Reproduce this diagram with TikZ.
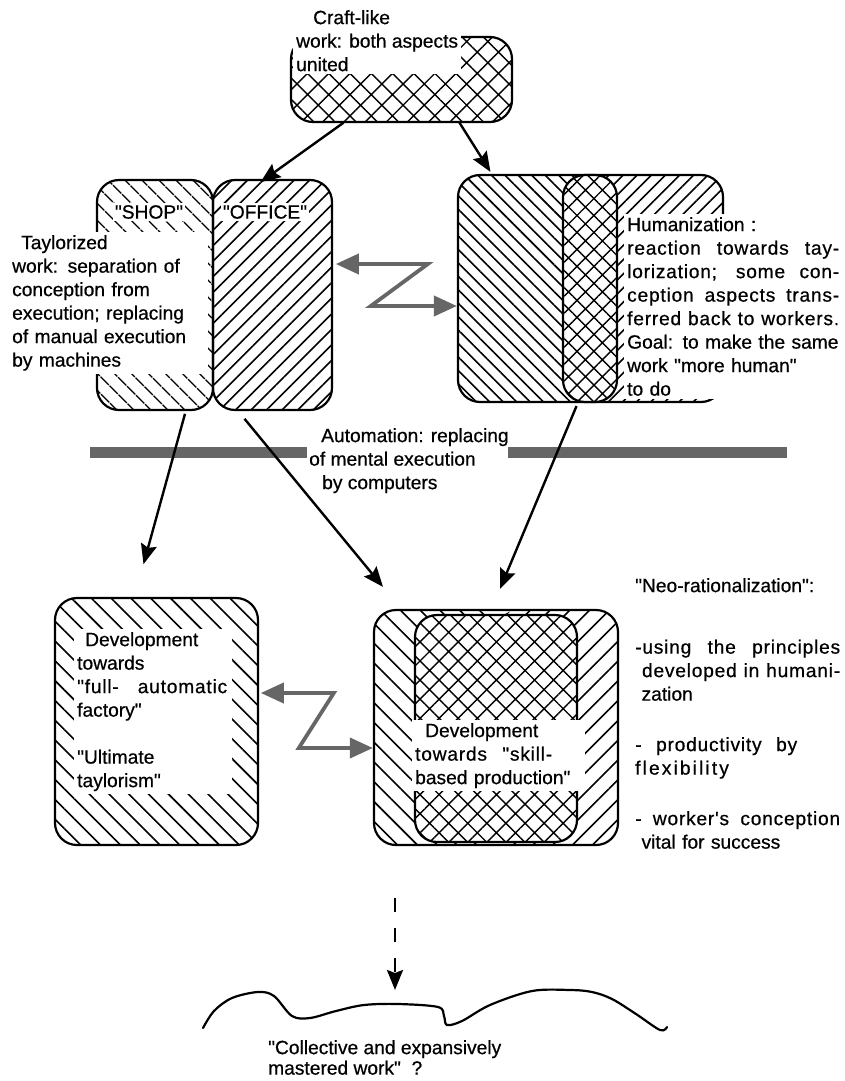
\documentclass[tikz,border=0pt]{standalone}
\usepackage{fontspec}
\setmainfont{Liberation Sans}[Ligatures=TeXOff, FakeBold=0.6]
\usetikzlibrary{patterns.meta,arrows.meta}
\newcommand{\justline}[2][212pt]{\makebox[#1][s]{\addfontfeature{LetterSpace=4}\spaceskip=.28em plus 1fil\relax #2}}

\begin{document}
\begin{tikzpicture}[x=1pt,y=-1pt,
    box/.style={draw=black, line width=2.2pt, rounded corners=22pt, inner sep=0pt},
    rhatch/.style={pattern={Lines[angle=-45,distance=#1,line width=1.6pt]}},
    rhatch/.default=13pt,
    lhatch/.style={pattern={Lines[angle=45,distance=#1,line width=1.6pt]}},
    lhatch/.default=11pt,
    xhatch/.style={pattern={Hatch[angle=45,distance=#1,line width=1.4pt]}},
    xhatch/.default=13pt,
    txt/.style={font=\fontsize{19.2}{23.5}\selectfont, align=left, inner sep=3pt},
    wtxt/.style={txt, fill=white},
    arr/.style={-{Stealth[length=20pt,width=16pt,inset=3pt]}, line width=2.4pt},
    zz/.style={{Triangle[length=23pt,width=20pt]}-{Triangle[length=23pt,width=20pt]}, line width=3.8pt, draw=black!60},
    gbar/.style={fill=black!60}]
    \useasboundingbox (0,0) rectangle (845,1081);

    % boxes
    \node[box, xhatch=15pt, minimum width=221pt, minimum height=85pt] (craft) at (401.5,79.5) {};
    \node[box, rhatch, minimum width=116pt, minimum height=230pt] (shop) at (155,295) {};
    \node[box, lhatch, minimum width=119pt, minimum height=230pt] (office) at (272.5,295) {};
    \node[box, minimum width=265pt, minimum height=227pt,
        path picture={
            \path[rhatch=9.5pt] (path picture bounding box.north west) rectangle (path picture bounding box.south);
            \path[lhatch=10pt] (path picture bounding box.north) rectangle (path picture bounding box.south east);
        }] (human) at (590.5,288.5) {};
    \node[box, preaction={fill=white}, xhatch=12pt, minimum width=54pt, minimum height=227pt] (humx) at (590,288.5) {};
    \node[box, rhatch=14pt, minimum width=203pt, minimum height=247pt] (full) at (156.5,721.5) {};
    \node[box, minimum width=244pt, minimum height=235pt,
        path picture={
            \path[rhatch=14pt] (path picture bounding box.north west) rectangle (path picture bounding box.south);
            \path[lhatch=14pt] (path picture bounding box.north) rectangle (path picture bounding box.south east);
        }] (skill) at (496,727.5) {};
    \node[box, preaction={fill=white}, xhatch=13.5pt, minimum width=162pt, minimum height=227pt] (skillx) at (496,728.5) {};

    % texts on white
    \node[wtxt, anchor=north west] (crafttext) at (293,7) {\hspace*{17pt}Craft-like\\work: both aspects\\united};
    \node[wtxt, inner sep=2pt] (shoplabel) at (149,212) {"SHOP"};
    \node[wtxt, inner sep=2pt] (officelabel) at (265,212) {"OFFICE"};
    \node[wtxt, anchor=north west, text width=193pt] (shoptext) at (9,232) {\hspace*{9pt}Taylorized\\work: separation of\\conception from\\execution; replacing\\of manual execution\\by machines};
    \node[wtxt, anchor=north west, text width=212pt] (humtext) at (624,214) {Humanization :\\\justline{reaction towards tay-}\\\justline{lorization; some con-}\\\justline{ception aspects trans-}\\\justline{ferred back to workers.}\\Goal: to make the same\\work "more human"\\to do};
    \node[wtxt, anchor=north west, text width=152pt] (fulltext) at (74,629) {\hspace*{8pt}Development\\towards\\\justline[150pt]{"full- automatic}\\factory"\\\mbox{}\\"Ultimate\\taylorism"};
    \node[wtxt, anchor=north west, text width=167pt] (skilltext) at (412,720) {\hspace*{10pt}Development\\\justline[137pt]{towards "skill-}\\based production"};

    % automation line
    \fill[gbar] (90,447) rectangle (307,458);
    \fill[gbar] (508,447) rectangle (787,458);
    \node[txt, anchor=north west] (autotext) at (306,425) {\hspace*{12pt}Automation: replacing\\of mental execution\\\hspace*{13pt}by computers};

    \node[txt, anchor=north west, text width=205pt] (neotext) at (632,575) {"Neo-rationalization":\\[38pt]\justline[205pt]{-using the principles}\\\justline[205pt]{\ developed in humani-}\\\ zation\\[27pt]\justline[162pt]{- productivity by}\\{\addfontfeature{LetterSpace=11}flexibility}\\[27pt]\justline[205pt]{- worker's conception}\\\ vital for success};

    % arrows
    \draw[arr] ([xshift=-58pt]craft.south) -- ([xshift=-12pt,yshift=-3pt]office.north);
    \draw[arr] ([xshift=58pt]craft.south) -- ([xshift=-100pt,yshift=2pt]human.north);
    \draw[arr] ([xshift=30pt,yshift=-3pt]shop.south) -- ([xshift=-13pt,yshift=33pt]full.north);
    \draw[arr] ([xshift=-28pt,yshift=-8pt]office.south) -- ([xshift=-113pt,yshift=22pt]skill.north);
    \draw[arr] ([xshift=-14pt,yshift=-3pt]human.south) -- ([xshift=4pt,yshift=20pt]skill.north);

    \draw[zz] ([xshift=3pt,yshift=31pt]office.east) -- ++(92,0) -- ++(-57,42) -- ([yshift=-17.5pt]human.west);
    \draw[zz] ([xshift=2pt,yshift=28.5pt]full.east) -- ++(73,0) -- ++(-35,55) -- ([yshift=-20.5pt]skill.west);

    % the open end
    \coordinate (goal) at (395,990);
    \draw[arr, dash pattern=on 14pt off 16pt] ([xshift=-101pt,yshift=-52pt]skill.south) -- (goal);
    \draw[line width=2.2pt, line cap=round] plot[smooth, tension=0.55] coordinates {(203,1028) (214,1011) (232,998) (258,992) (274,996) (292,1016) (310,1018) (336,1011) (364,1005) (398,1004) (438,1007) (444,1016) (447,1025) (462,1021) (490,1005) (532,991) (570,990) (592,992) (612,999) (636,1014) (660,1030) (667,1027)};
    \node[txt, anchor=north west] (goaltext) at (265,1037) {"Collective and expansively\\[-3pt]mastered work"\ \ ?};
\end{tikzpicture}
\end{document}
